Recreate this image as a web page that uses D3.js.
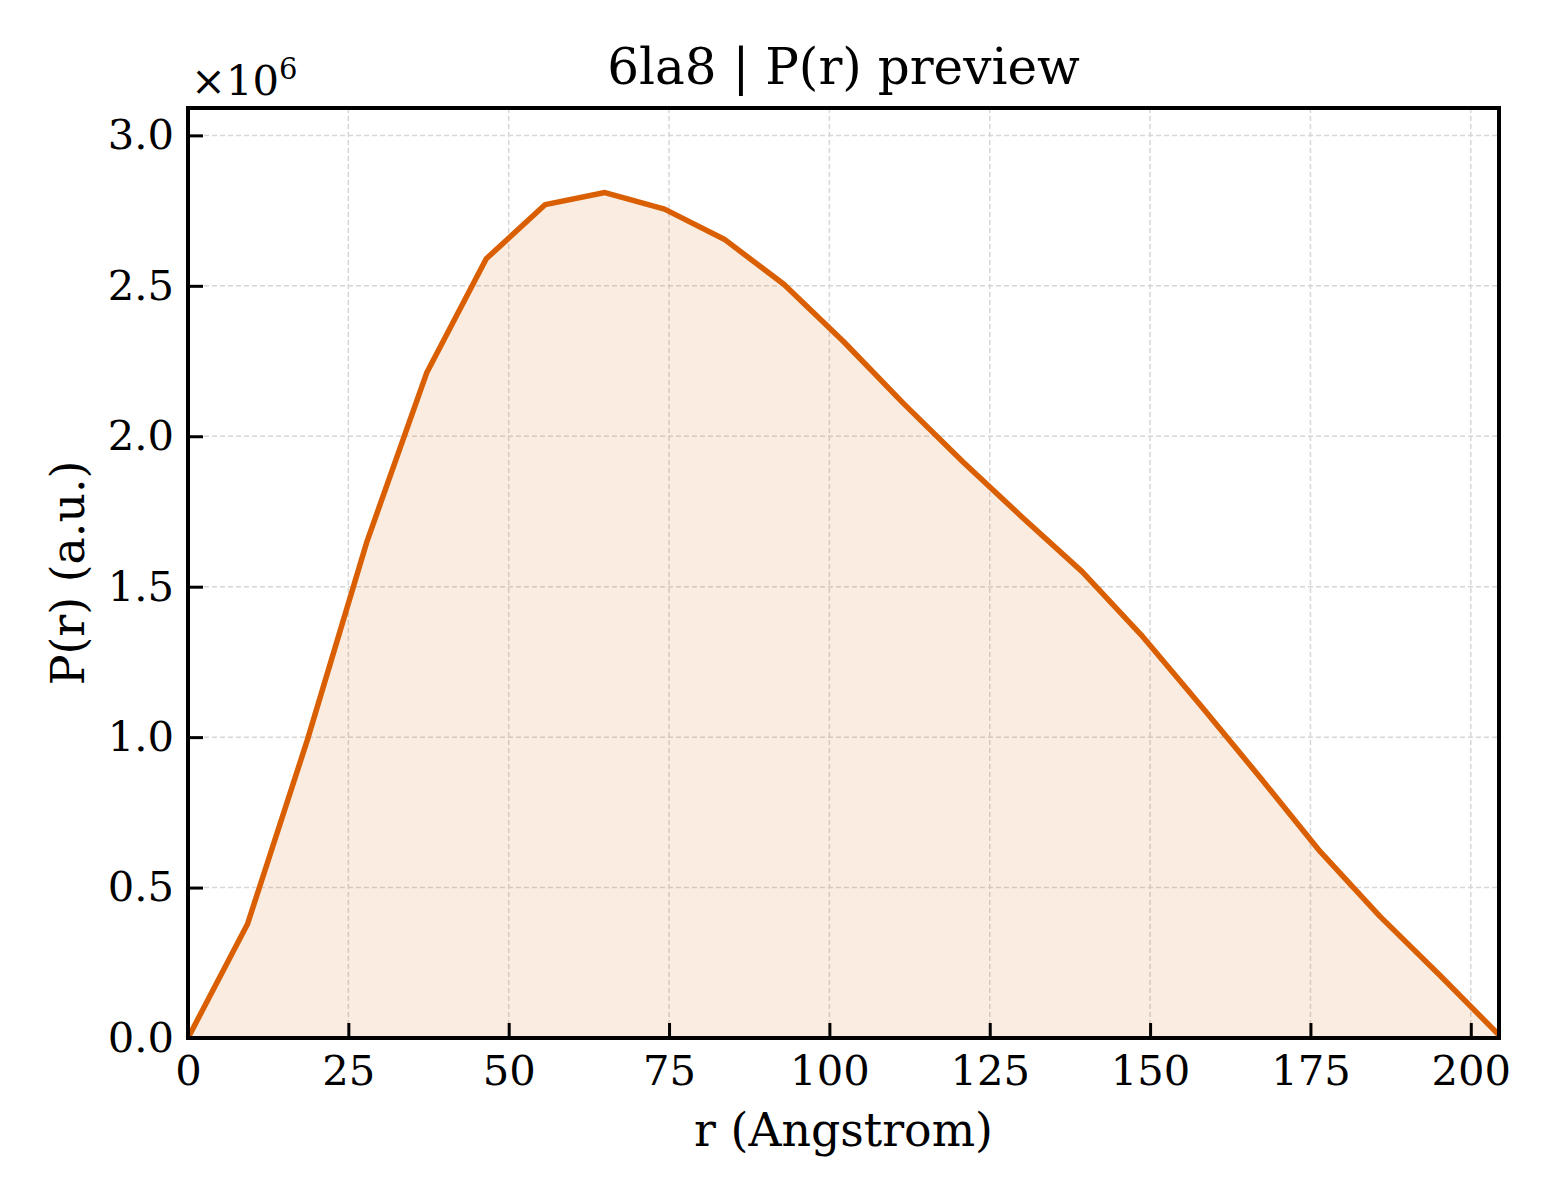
<!DOCTYPE html>
<html>
<head>
<meta charset="utf-8">
<script src="https://cdn.jsdelivr.net/npm/d3@7"></script>
<style>
  body { margin: 0; background: #fff; }
  text { font-family: "DejaVu Serif", serif; fill: #000; }
</style>
</head>
<body>
<div id="chart"></div>
<script>
// r in Angstrom, P(r) in arbitrary units
const rValues = [0, 9.3, 18.6, 27.9, 37.2, 46.5, 55.7, 65.0, 74.3, 83.6, 92.9,
                 102.2, 111.5, 120.8, 130.1, 139.4, 148.6, 157.9, 167.2, 176.5,
                 185.8, 195.1, 204.4];
const pValues = [0, 0.38e6, 0.99e6, 1.65e6, 2.21e6, 2.59e6, 2.77e6, 2.81e6, 2.755e6,
                 2.655e6, 2.505e6, 2.315e6, 2.11e6, 1.915e6, 1.73e6, 1.55e6, 1.34e6,
                 1.105e6, 0.865e6, 0.62e6, 0.405e6, 0.21e6, 0.01e6];
const xTicks = [0, 25, 50, 75, 100, 125, 150, 175, 200];
const yTicks = [0, 0.5e6, 1.0e6, 1.5e6, 2.0e6, 2.5e6, 3.0e6];

const data = rValues.map((r, i) => ({ r: r, p: pValues[i] }));

const W = 1560, H = 1200;
const margin = { top: 108, right: 61, bottom: 162, left: 188 };
const width = W - margin.left - margin.right;
const height = H - margin.top - margin.bottom;
const color = "#d95f02";

const svg = d3.select("#chart").append("svg")
    .attr("width", W)
    .attr("height", H);
const g = svg.append("g")
    .attr("transform", `translate(${margin.left},${margin.top})`);

const x = d3.scaleLinear()
    .domain([0, d3.max(rValues)])
    .range([0, width]);
const y = d3.scaleLinear()
    .domain([0, d3.max(pValues) * 1.1])
    .range([height, 0]);

// grid
g.append("g").selectAll("line")
    .data(xTicks)
    .enter().append("line")
    .attr("x1", d => x(d)).attr("x2", d => x(d))
    .attr("y1", 0).attr("y2", height)
    .attr("stroke", "#d6d6d6").attr("stroke-width", 1.5)
    .attr("stroke-dasharray", "5,3");
g.append("g").selectAll("line")
    .data(yTicks)
    .enter().append("line")
    .attr("x1", 0).attr("x2", width)
    .attr("y1", d => y(d)).attr("y2", d => y(d))
    .attr("stroke", "#d6d6d6").attr("stroke-width", 1.5)
    .attr("stroke-dasharray", "5,3");

// area + line
const area = d3.area()
    .x(d => x(d.r))
    .y0(y(0))
    .y1(d => y(d.p));
g.append("path")
    .datum(data)
    .attr("d", area)
    .attr("fill", color)
    .attr("fill-opacity", 0.12);

const line = d3.line()
    .x(d => x(d.r))
    .y(d => y(d.p));
g.append("path")
    .datum(data)
    .attr("d", line)
    .attr("fill", "none")
    .attr("stroke", color)
    .attr("stroke-width", 5.5)
    .attr("stroke-linejoin", "round");

// axes, ticks pointing inwards
const xAxis = g.append("g")
    .attr("transform", `translate(0,${height})`)
    .call(d3.axisBottom(x).tickValues(xTicks).tickSize(-15).tickPadding(30).tickFormat(d3.format("d")));
const yAxis = g.append("g")
    .call(d3.axisLeft(y).tickValues(yTicks).tickSize(-15).tickPadding(30).tickFormat(d => (d / 1e6).toFixed(1)));

[xAxis, yAxis].forEach(a => {
    a.select(".domain").remove();
    a.selectAll(".tick line").attr("stroke", "#000").attr("stroke-width", 3);
    a.selectAll(".tick text")
        .attr("font-size", 41.7)
        .style("font-family", "DejaVu Serif, serif");
});
xAxis.selectAll(".tick text").attr("dy", "0.71em").attr("y", 17);
yAxis.selectAll(".tick text").attr("x", -14);

// frame
g.append("rect")
    .attr("width", width).attr("height", height)
    .attr("fill", "none")
    .attr("stroke", "#000").attr("stroke-width", 4);

// offset text
const off = svg.append("text")
    .attr("x", margin.left + 3)
    .attr("y", 95)
    .attr("font-size", 41.7);
off.append("tspan").text("×10");
off.append("tspan").text("6").attr("font-size", 29).attr("dy", -16);

// title and labels
svg.append("text")
    .attr("x", margin.left + width / 2)
    .attr("y", 84)
    .attr("text-anchor", "middle")
    .attr("font-size", 50)
    .text("6la8 | P(r) preview");

svg.append("text")
    .attr("x", margin.left + width / 2)
    .attr("y", 1146)
    .attr("text-anchor", "middle")
    .attr("font-size", 45.8)
    .text("r (Angstrom)");

svg.append("text")
    .attr("transform", `translate(84,${margin.top + height / 2}) rotate(-90)`)
    .attr("text-anchor", "middle")
    .attr("font-size", 45.8)
    .text("P(r) (a.u.)");
</script>
</body>
</html>
